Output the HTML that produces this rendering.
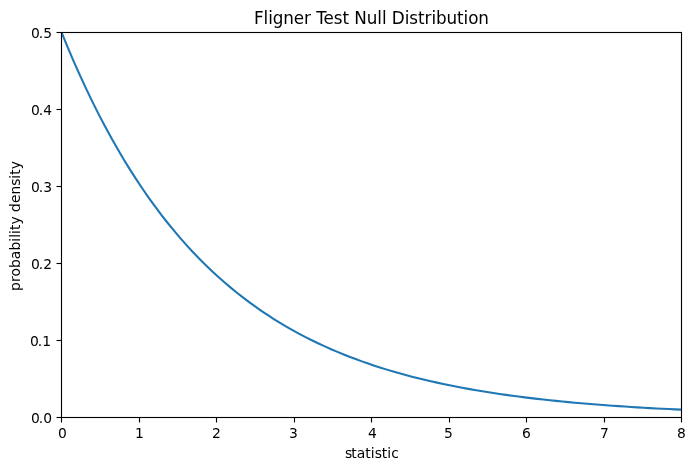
<!DOCTYPE html>
<html lang="en"><head><meta charset="utf-8"><title>Fligner Test Null Distribution</title>
<style>
html,body{margin:0;padding:0;background:#fff;}
body{width:695px;height:470px;overflow:hidden;}
svg{display:block;}
text{font-family:"DejaVu Sans","Liberation Sans",sans-serif;fill:#000;text-rendering:auto;}
.t{font-size:13.889px;}
.title{font-size:16.8px;}
</style></head><body>
<svg width="695" height="470" viewBox="0 0 695 470">
<rect x="0" y="0" width="695" height="470" fill="#ffffff"/>
<defs><clipPath id="c"><rect x="61" y="32" width="620" height="385"/></clipPath></defs>
<polyline clip-path="url(#c)" points="61.28,31.72 67.54,46.97 73.80,61.61 80.07,75.67 86.33,89.18 92.59,102.15 98.85,114.60 105.12,126.57 111.38,138.06 117.64,149.09 123.90,159.69 130.17,169.87 136.43,179.64 142.69,189.03 148.95,198.05 155.22,206.71 161.48,215.02 167.74,223.01 174.01,230.68 180.27,238.05 186.53,245.12 192.79,251.92 199.06,258.44 205.32,264.71 211.58,270.73 217.84,276.51 224.11,282.06 230.37,287.40 236.63,292.52 242.89,297.44 249.16,302.16 255.42,306.70 261.68,311.05 267.94,315.24 274.21,319.26 280.47,323.12 286.73,326.82 292.99,330.38 299.26,333.80 305.52,337.08 311.78,340.24 318.05,343.27 324.31,346.18 330.57,348.97 336.83,351.65 343.10,354.23 349.36,356.70 355.62,359.08 361.88,361.36 368.15,363.55 374.41,365.66 380.67,367.68 386.93,369.62 393.20,371.49 399.46,373.28 405.72,375.00 411.98,376.65 418.25,378.24 424.51,379.76 430.77,381.23 437.04,382.63 443.30,383.98 449.56,385.28 455.82,386.52 462.09,387.72 468.35,388.87 474.61,389.97 480.87,391.03 487.14,392.05 493.40,393.02 499.66,393.96 505.92,394.86 512.19,395.73 518.45,396.56 524.71,397.36 530.97,398.13 537.24,398.86 543.50,399.57 549.76,400.25 556.03,400.90 562.29,401.53 568.55,402.13 574.81,402.71 581.08,403.26 587.34,403.80 593.60,404.31 599.86,404.80 606.13,405.27 612.39,405.72 618.65,406.16 624.91,406.58 631.18,406.98 637.44,407.37 643.70,407.74 649.96,408.09 656.23,408.43 662.49,408.76 668.75,409.08 675.02,409.38 681.28,409.67" fill="none" stroke="#1f77b4" stroke-width="2.0833" stroke-linejoin="round" stroke-linecap="square"/>
<g stroke="#000" stroke-width="1.111" fill="none">
<line x1="61.5" y1="417.5" x2="61.5" y2="422.5"/>
<line x1="139.5" y1="417.5" x2="139.5" y2="422.5"/>
<line x1="216.5" y1="417.5" x2="216.5" y2="422.5"/>
<line x1="294.5" y1="417.5" x2="294.5" y2="422.5"/>
<line x1="371.5" y1="417.5" x2="371.5" y2="422.5"/>
<line x1="449.5" y1="417.5" x2="449.5" y2="422.5"/>
<line x1="526.5" y1="417.5" x2="526.5" y2="422.5"/>
<line x1="604.5" y1="417.5" x2="604.5" y2="422.5"/>
<line x1="681.5" y1="417.5" x2="681.5" y2="422.5"/>
<line x1="56.5" y1="417.5" x2="61.5" y2="417.5"/>
<line x1="56.5" y1="340.5" x2="61.5" y2="340.5"/>
<line x1="56.5" y1="263.5" x2="61.5" y2="263.5"/>
<line x1="56.5" y1="186.5" x2="61.5" y2="186.5"/>
<line x1="56.5" y1="109.5" x2="61.5" y2="109.5"/>
<line x1="56.5" y1="32.5" x2="61.5" y2="32.5"/>
<rect x="61.5" y="32.5" width="620" height="385"/>
</g>
<g class="t">
<text x="58.000" y="438.0">0</text>
<text x="135.000" y="438.0">1</text>
<text x="212.000" y="438.0">2</text>
<text x="289.000" y="438.0">3</text>
<text x="368.000" y="438.0">4</text>
<text x="444.000" y="438.0">5</text>
<text x="522.000" y="438.0">6</text>
<text x="600.000" y="438.0">7</text>
<text x="677.000" y="438.0">8</text>
</g><g class="t">
<text x="31.000 38.750 43.125" y="423.00">0.0</text>
<text x="30.000 37.750 42.125" y="346.00">0.1</text>
<text x="31.000 38.750 43.125" y="269.00">0.2</text>
<text x="31.000 38.750 43.125" y="192.00">0.3</text>
<text x="31.000 38.750 43.125" y="115.00">0.4</text>
<text x="31.000 38.750 43.125" y="38.00">0.5</text>
</g>
<text class="title" x="254.000 263.500 268.125 272.750 283.250 293.750 304.000 310.875 316.125 323.500 333.750 342.500 349.000 354.250 366.750 377.250 381.875 386.500 391.750 404.625 409.250 418.000 424.500 431.375 436.000 446.500 457.000 463.500 468.125 478.250" y="24.0">Fligner Test Null Distribution</text>
<text class="t" x="345.000 351.125 356.625 365.250 370.750 374.625 381.750 387.250 391.125" y="458.0">statistic</text>
<text class="t" transform="translate(20.0,290.92) rotate(-90)" x="0.000 8.875 14.375 22.875 31.750 40.375 49.250 53.125 57.000 60.875 66.375 74.625 79.000 87.875 96.375 105.125 112.250 116.125 121.625" y="0">probability density</text>
</svg></body></html>
